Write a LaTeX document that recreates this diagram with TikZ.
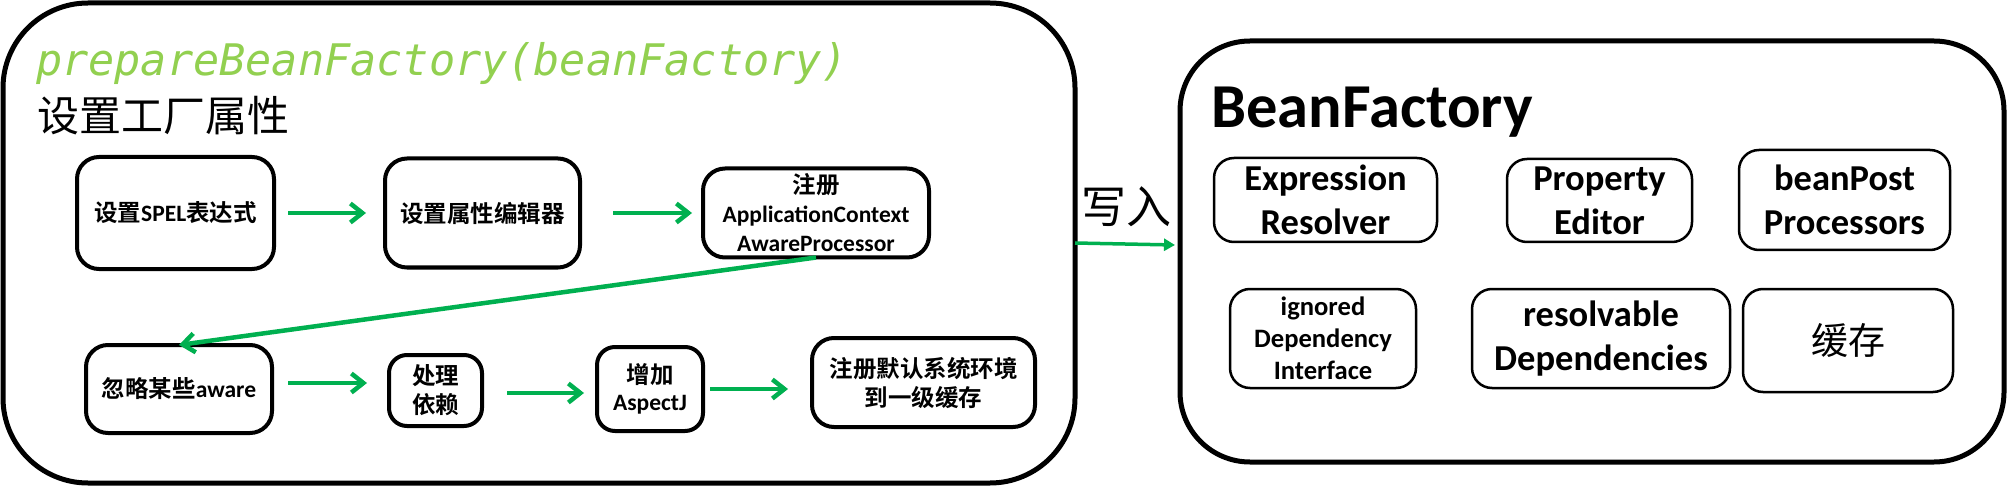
\documentclass[tikz,border=0pt]{standalone}
\usepackage{fontspec}
\setmainfont{Carlito}
\newfontfamily\cjk{Noto Sans CJK SC}[BoldFont={Noto Sans CJK SC Bold}]
\newfontfamily\codefont{DejaVu Sans Mono}
\usetikzlibrary{arrows.meta}
\definecolor{flowgreen}{RGB}{0,176,80}
\definecolor{titlegreen}{RGB}{146,208,80}
\newcommand{\zh}[1]{{\cjk #1}}
\begin{document}
\begin{tikzpicture}[x=1pt,y=-1pt,
  bigbox/.style={draw, line width=5pt, inner sep=0pt, outer sep=0pt, fill=white},
  stepbox/.style={draw, line width=4pt, rounded corners=22pt, inner sep=0pt, outer sep=0pt, align=center,
    font=\bfseries\fontsize{23.5}{29}\selectfont},
  itembox/.style={draw, line width=2.5pt, rounded corners=20pt, inner sep=0pt, outer sep=0pt, align=center,
    font=\bfseries\fontsize{36.5}{44}\selectfont},
  flow/.style={draw=flowgreen, line width=4.5pt, -{Straight Barb[length=12pt,width=19pt]}},
  write/.style={draw=flowgreen, line width=3.5pt, -{Triangle[length=11pt,width=12pt]}}
]
\useasboundingbox (0,0) rectangle (2009,486);
% outer boxes
\node[bigbox, rounded corners=85pt, minimum width=1072pt, minimum height=480pt] (L) at (539,243) {};
\node[bigbox, rounded corners=70pt, minimum width=824pt, minimum height=421pt] (R) at (1592,251.5) {};
% titles
\node[anchor=base west, inner sep=0pt, text=titlegreen, font=\codefont\itshape\fontsize{43.5}{50}\selectfont] (title) at (36,76) {prepareBeanFactory(beanFactory)};
\node[anchor=base west, inner sep=0pt, font=\cjk\fontsize{42}{48}\selectfont] (subtitle) at (37,132) {设置工厂属性};
\node[anchor=base west, inner sep=0pt, font=\bfseries\fontsize{62.5}{70}\selectfont] (bf) at (1211,128) {BeanFactory};
% left flow
\node[stepbox, minimum width=197pt, minimum height=112pt] (b1) at (175.5,213) {\zh{设置}SPEL\zh{表达式}};
\node[stepbox, minimum width=195pt, minimum height=109pt] (b2) at (482.5,213) {\zh{设置属性编辑器}};
\node[stepbox, minimum width=226pt, minimum height=89pt] (b3) at (816,213) {\zh{注册}\\ApplicationContext\\AwareProcessor};
\node[stepbox, minimum width=186pt, minimum height=88pt] (b4) at (179,389) {\zh{忽略某些}aware};
\node[stepbox, rounded corners=18pt, minimum width=93pt, minimum height=71pt] (b5) at (435.5,390.5) {\zh{处理}\\\zh{依赖}};
\node[stepbox, rounded corners=18pt, minimum width=106pt, minimum height=84pt, font=\bfseries\fontsize{23.5}{27}\selectfont] (b6) at (650,389) {\zh{增加}\\AspectJ};
\node[stepbox, minimum width=223pt, minimum height=89pt] (b7) at (923.5,382.5) {\zh{注册默认系统环境}\\\zh{到一级缓存}};
\draw[flow] ([xshift=14pt]b1.east) -- ([xshift=-19pt]b2.west);
\draw[flow] ([xshift=33pt]b2.east) -- ([xshift=-11pt]b3.west);
\draw[flow] (b3.south) -- (b4.north);
\draw[flow] ([shift={(16,-6)}]b4.east) -- ([shift={(-22,-7.5)}]b5.west);
\draw[flow] ([shift={(25,2.5)}]b5.east) -- ([shift={(-13,4)}]b6.west);
\draw[flow] ([shift={(7,0)}]b6.east) -- ([shift={(-24,6.5)}]b7.west);
% write arrow
\node[inner sep=0pt, font=\cjk\fontsize{45}{50}\selectfont] (wr) at (1126,207) {写入};
\draw[write] (L.east) -- ([shift={(-5,-6.5)}]R.west);
% right items
\node[itembox, minimum width=223pt, minimum height=84pt] (r1) at (1325.5,200) {Expression\\Resolver};
\node[itembox, minimum width=185pt, minimum height=83pt] (r2) at (1599.5,200.5) {Property\\Editor};
\node[itembox, minimum width=211pt, minimum height=100pt] (r3) at (1844.5,200) {beanPost\\Processors};
\node[itembox, minimum width=186pt, minimum height=99pt, font=\bfseries\fontsize{26.6}{32}\selectfont] (r4) at (1323,338.5) {ignored\\Dependency\\Interface};
\node[itembox, minimum width=258pt, minimum height=99pt] (r5) at (1601,338.5) {resolvable\\Dependencies};
\node[itembox, minimum width=210pt, minimum height=103pt, font=\cjk\fontsize{37}{44}\selectfont] (r6) at (1848,340.5) {缓存};
\end{tikzpicture}
\end{document}
